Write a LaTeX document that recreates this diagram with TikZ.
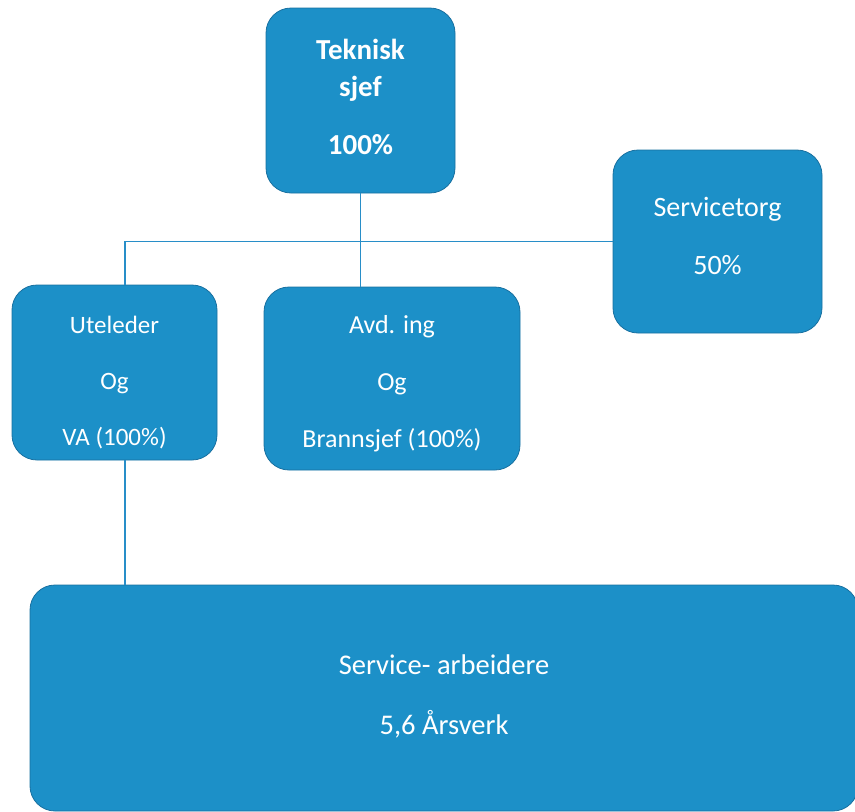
\documentclass[tikz,border=0pt]{standalone}
\usepackage{fontspec}
\setmainfont{Carlito}
\usepackage{xcolor}
\usepackage{tikz}
\usetikzlibrary{positioning,calc}

\definecolor{orgfill}{RGB}{28,144,200}
\definecolor{orgedge}{RGB}{24,112,160}
\definecolor{orgline}{RGB}{40,142,200}

\begin{document}
\begin{tikzpicture}[
  x=1pt, y=-1pt,
  unit/.style={rectangle, rounded corners=25pt, draw=orgedge, line width=0.8pt, fill=orgfill, inner sep=0pt},
  txt/.style={text=white, align=center, inner sep=0pt},
  link/.style={draw=orgline, line width=1.4pt}
]
\clip (0,0) rectangle (855,812);
\useasboundingbox (0,0) rectangle (855,812);

% boxes, text set as centre labels so it can be nudged
\node[unit, minimum width=189pt, minimum height=185pt,
  label={[txt, yshift=4pt, font=\bfseries\fontsize{29}{37}\selectfont]center:{Teknisk\\sjef\\[21pt]100\%}}] (tek) at (360.5,100.5) {};
\node[unit, minimum width=209pt, minimum height=183pt,
  label={[txt, yshift=6pt, font=\fontsize{28}{58}\selectfont]center:{Servicetorg\\50\%}}] (svc) at (717.5,241.5) {};
\node[unit, minimum width=205pt, minimum height=175pt,
  label={[txt, yshift=-10pt, font=\fontsize{25}{56}\selectfont]center:{Uteleder\\Og\\VA (100\%)}}] (ute) at (114.5,372.5) {};
\node[unit, minimum width=256pt, minimum height=183pt,
  label={[txt, yshift=-5pt, font=\fontsize{26}{57}\selectfont]center:{Avd. ing\\Og\\Brannsjef (100\%)}}] (avd) at (392,378.5) {};
\node[unit, minimum width=828pt, minimum height=226pt,
  label={[txt, yshift=2pt, font=\fontsize{28.5}{60}\selectfont]center:{Service- arbeidere\\5,6 Årsverk}}] (srv) at (444,698) {};

\draw[link] (tek.south) -- (tek.south |- avd.north);
\draw[link] ([xshift=10.5pt]ute.north) |- (svc.west);
\draw[link] ([xshift=10.5pt]ute.south) -- ([xshift=10.5pt]ute.south |- srv.north);

\end{tikzpicture}
\end{document}
